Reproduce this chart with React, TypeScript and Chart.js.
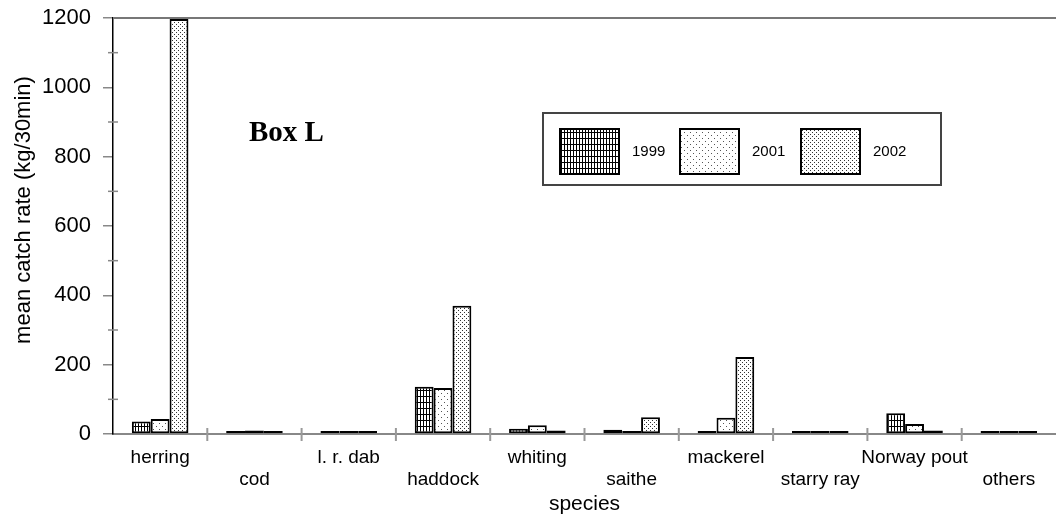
import React, { useEffect, useRef } from "react";
import { Chart, registerables } from "chart.js";

Chart.register(...registerables);

const species = ["herring", "cod", "l. r. dab", "haddock", "whiting", "saithe", "mackerel", "starry ray", "Norway pout", "others"];
const years = ["1999", "2001", "2002"];
const values1999 = [36, 5, 8, 136, 15, 12, 4, 2, 60, 4];
const values2001 = [43, 10, 5, 133, 25, 6, 47, 3, 29, 7];
const values2002 = [1197, 3, 3, 370, 10, 48, 222, 2, 10, 5];
const yTicks = [0, 200, 400, 600, 800, 1000, 1200];
const yMinorTicks = [100, 300, 500, 700, 900, 1100];

const FONT = "'Liberation Sans', Arial, sans-serif";

function makePattern(kind: number): CanvasPattern | string {
  const c = document.createElement("canvas");
  const ctx = c.getContext("2d");
  if (!ctx) return "#fff";
  if (kind === 0) {
    c.width = 3; c.height = 6;
    ctx.fillStyle = "#fff"; ctx.fillRect(0, 0, 3, 6);
    ctx.fillStyle = "#000";
    ctx.fillRect(0, 0, 1, 6);
    ctx.fillRect(0, 0, 3, 1);
  } else if (kind === 1) {
    c.width = 6; c.height = 6;
    ctx.fillStyle = "#fff"; ctx.fillRect(0, 0, 6, 6);
    ctx.fillStyle = "#555";
    ctx.fillRect(0, 0, 1, 1);
    ctx.fillRect(3, 3, 1, 1);
  } else {
    c.width = 4; c.height = 4;
    ctx.fillStyle = "#fff"; ctx.fillRect(0, 0, 4, 4);
    ctx.fillStyle = "#333";
    ctx.fillRect(0, 0, 1, 1);
    ctx.fillRect(2, 2, 1, 1);
  }
  const p = ctx.createPattern(c, "repeat");
  return p || "#fff";
}

const decorPlugin = {
  id: "decor",
  afterDraw(chart: any) {
    const { ctx, chartArea, scales } = chart;
    const x = scales.x;
    const y = scales.y;
    ctx.save();
    // top frame line
    ctx.strokeStyle = "#777";
    ctx.lineWidth = 2;
    ctx.beginPath();
    ctx.moveTo(chartArea.left, chartArea.top);
    ctx.lineTo(chartArea.right, chartArea.top);
    ctx.stroke();
    // minor y ticks
    ctx.strokeStyle = "#888";
    ctx.lineWidth = 1.5;
    yMinorTicks.forEach((v) => {
      const py = y.getPixelForValue(v);
      ctx.beginPath();
      ctx.moveTo(chartArea.left - 5, py);
      ctx.lineTo(chartArea.left + 5, py);
      ctx.stroke();
    });
    // category separators
    ctx.strokeStyle = "#999";
    ctx.lineWidth = 2;
    for (let i = 0; i < species.length - 1; i++) {
      const px = (x.getPixelForTick(i) + x.getPixelForTick(i + 1)) / 2;
      ctx.beginPath();
      ctx.moveTo(px, chartArea.bottom - 6);
      ctx.lineTo(px, chartArea.bottom + 7);
      ctx.stroke();
    }
    // legend
    ctx.strokeStyle = "#444";
    ctx.lineWidth = 2;
    ctx.strokeRect(543, 113, 398, 72);
    const swX = [560, 680, 801];
    chart.data.datasets.forEach((ds: any, i: number) => {
      ctx.fillStyle = ds.backgroundColor;
      ctx.fillRect(swX[i], 129, 59, 45);
      ctx.strokeStyle = "#000";
      ctx.lineWidth = 2;
      ctx.strokeRect(swX[i], 129, 59, 45);
      ctx.fillStyle = "#000";
      ctx.font = `15px ${FONT}`;
      ctx.textBaseline = "middle";
      ctx.textAlign = "left";
      ctx.fillText(ds.label, swX[i] + 72, 152);
    });
    // Box L
    ctx.fillStyle = "#000";
    ctx.font = `bold 29px 'Liberation Serif', 'Times New Roman', serif`;
    ctx.textBaseline = "alphabetic";
    ctx.textAlign = "left";
    ctx.fillText("Box L", 249, 141);
    // y axis title
    ctx.save();
    ctx.translate(24, 210);
    ctx.rotate(-Math.PI / 2);
    ctx.font = `22px ${FONT}`;
    ctx.textAlign = "center";
    ctx.textBaseline = "middle";
    ctx.fillText("mean catch rate (kg/30min)", 0, 0);
    ctx.restore();
    ctx.restore();
  },
};

export default function App() {
  const ref = useRef<HTMLCanvasElement | null>(null);
  useEffect(() => {
    if (!ref.current) return;
    const patterns = [makePattern(0), makePattern(1), makePattern(2)];
    const series = [values1999, values2001, values2002];
    const labels = species.map((s, i) => (i % 2 === 0 ? s : ["", s]));
    const chart = new Chart(ref.current, {
      type: "bar",
      data: {
        labels,
        datasets: years.map((yr, i) => ({
          label: yr,
          data: series[i],
          backgroundColor: patterns[i] as any,
          borderColor: "#000",
          borderWidth: 2,
          borderSkipped: false,
          minBarLength: 3,
          categoryPercentage: 0.6,
          barPercentage: 1.0,
        })),
      },
      options: {
        animation: false,
        responsive: true,
        maintainAspectRatio: false,
        layout: { padding: { top: 18, left: 0, right: 0, bottom: 0 } },
        plugins: {
          legend: { display: false },
          tooltip: { enabled: false },
        },
        scales: {
          x: {
            grid: { display: false, drawTicks: false },
            border: { display: true, color: "#888", width: 2 },
            ticks: {
              autoSkip: false,
              maxRotation: 0,
              minRotation: 0,
              padding: 12,
              color: "#000",
              font: { family: FONT, size: 19 },
            },
            title: {
              display: true,
              text: "species",
              color: "#000",
              font: { family: FONT, size: 21 },
              padding: { top: 0, bottom: 3 },
            },
            afterFit: (s: any) => { s.height = 86; s.paddingLeft = 0; s.paddingRight = 0; },
          },
          y: {
            min: 0,
            max: 1200,
            afterBuildTicks: (s: any) => { s.ticks = yTicks.map((v) => ({ value: v })); },
            grid: { drawOnChartArea: false, drawTicks: true, tickLength: 10, color: "#888", lineWidth: 1.5 },
            border: { display: true, color: "#000", width: 1.5 },
            ticks: {
              padding: 12,
              color: "#000",
              font: { family: FONT, size: 22 },
              callback: (v: any) => String(v),
            },
            afterFit: (s: any) => { s.width = 113; s.paddingTop = 0; s.paddingBottom = 0; },
          },
        },
      },
      plugins: [decorPlugin],
    });
    return () => chart.destroy();
  }, []);
  return (
    <div style={{ position: "fixed", left: 0, top: 0, width: 1056, height: 520, background: "#fff" }}>
      <canvas ref={ref} />
    </div>
  );
}
